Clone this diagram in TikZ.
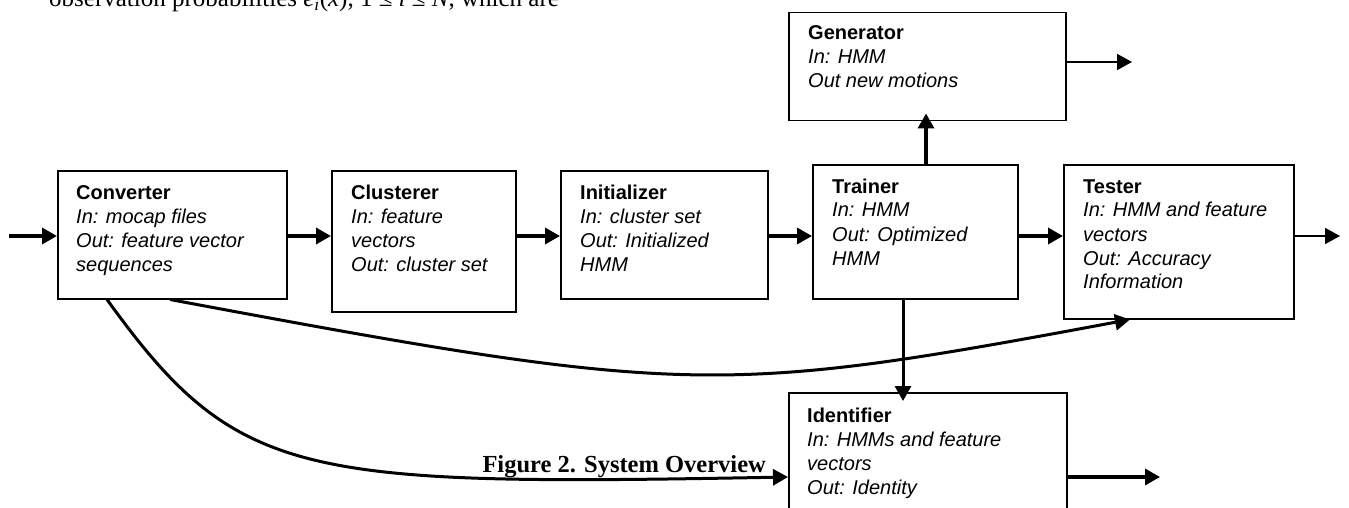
\documentclass[tikz,border=0pt]{standalone}
\usepackage{fontspec}
\setmainfont{Liberation Sans}
\newfontfamily\capfont{Liberation Serif}
\usetikzlibrary{arrows.meta,calc}
\begin{document}
\begin{tikzpicture}[x=1pt,y=-1pt,
  box/.style={draw=black, line width=1.5pt, inner sep=0pt, anchor=north west},
  txt/.style={anchor=base west, inner sep=0pt, font=\fontsize{20}{24}\selectfont},
  arr/.style={line width=3.4pt, -{Triangle[length=15pt,width=16pt]}},
  thinarr/.style={line width=1.8pt, -{Triangle[length=15pt,width=16pt]}},
  curvearr/.style={line width=3pt, -{Triangle[length=15pt,width=16pt]}}
]
\useasboundingbox (0,0) rectangle (1349,508);

% top text line of the page (cut off at the top edge, as in the reference)
\node[anchor=base west, inner sep=0pt, font=\capfont\fontsize{25}{30}\selectfont] (toptext) at (49,7)
  {observation probabilities \textit{e}\textsubscript{\textit{i}}(\textit{x}), 1 ≤ \textit{i} ≤ \textit{N}, which are};

% boxes
\node[box, minimum width=229pt, minimum height=128pt] (conv) at (57,170) {};
\node[box, minimum width=184pt, minimum height=141pt] (clus) at (331,170) {};
\node[box, minimum width=207pt, minimum height=128pt] (init) at (560,170) {};
\node[box, minimum width=205pt, minimum height=134pt] (train) at (812,164) {};
\node[box, minimum width=230pt, minimum height=154pt] (test) at (1063,164) {};
\node[box, minimum width=277pt, minimum height=108pt] (gen) at (788,12) {};
\node[box, minimum width=278pt, minimum height=140pt] (ident) at (788,392) {};

% texts
\node[txt] (convt) at ($(conv.north west)+(19,29)$) {\parbox[t]{220pt}{\textbf{Converter}\\\textit{In: mocap files}\\\textit{Out: feature vector}\\\textit{sequences}}};
\node[txt] (clust) at ($(clus.north west)+(20,29)$) {\parbox[t]{170pt}{\textbf{Clusterer}\\\textit{In: feature}\\\textit{vectors}\\\textit{Out: cluster set}}};
\node[txt] (initt) at ($(init.north west)+(20,29)$) {\parbox[t]{190pt}{\textbf{Initializer}\\\textit{In: cluster set}\\\textit{Out: Initialized}\\\textit{HMM}}};
\node[txt] (traint) at ($(train.north west)+(20,29)$) {\parbox[t]{190pt}{\textbf{Trainer}\\\textit{In: HMM}\\\textit{Out: Optimized}\\\textit{HMM}}};
\node[txt] (testt) at ($(test.north west)+(20,29)$) {\parbox[t]{210pt}{\textbf{Tester}\\\textit{In: HMM and feature}\\\textit{vectors}\\\textit{Out: Accuracy}\\\textit{Information}}};
\node[txt] (gent) at ($(gen.north west)+(20,28)$) {\parbox[t]{250pt}{\textbf{Generator}\\\textit{In: HMM}\\\textit{Out new motions}}};
\node[txt] (identt) at ($(ident.north west)+(19,30)$) {\parbox[t]{250pt}{\textbf{Identifier}\\\textit{In: HMMs and feature}\\\textit{vectors}\\\textit{Out: Identity}}};

% caption
\node[anchor=base east, inner sep=0pt, font=\capfont\bfseries\fontsize{24.5}{28}\selectfont] (cap) at (766,472) {Figure 2. System Overview};

% helper coordinates
\coordinate (yrow) at (0,236);
\coordinate (inp) at (9,236);
\coordinate (testout) at (1340,236);
\coordinate (xg) at (926,0);
\coordinate (xi) at (903,0);
\coordinate (genout) at (1132,62);
\coordinate (idout) at (1160,477);

% main chain
\draw[arr] (inp) -- (conv.west |- yrow);
\draw[arr] (conv.east |- yrow) -- (clus.west |- yrow);
\draw[arr] (clus.east |- yrow) -- (init.west |- yrow);
\draw[arr] (init.east |- yrow) -- (train.west |- yrow);
\draw[arr] (train.east |- yrow) -- (test.west |- yrow);
\draw[thinarr] (test.east |- yrow) -- (testout);

% trainer to generator / identifier
\draw[arr, shorten >=-8pt] (train.north -| xg) -- (gen.south -| xg);
\draw[arr, line width=3pt, shorten >=-9pt] (train.south -| xi) -- (ident.north -| xi);

% outputs
\draw[thinarr] (gen.east |- genout) -- (genout);
\draw[arr] (ident.east |- idout) -- (idout);

% curves from converter
\draw[curvearr] ($(conv.south west)+(113,0)$) .. controls (686,396) and (720,396) .. ($(test.south west)+(67,0)$);
\draw[curvearr] ($(conv.south west)+(50,0)$) .. controls (237,480) and (300,486) .. (ident.west |- idout);
\end{tikzpicture}
\end{document}
